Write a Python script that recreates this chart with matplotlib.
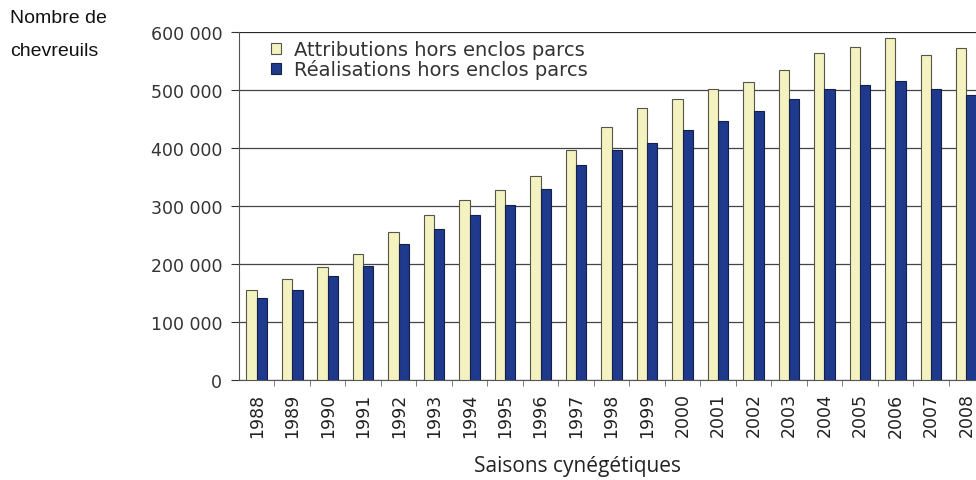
import matplotlib.pyplot as plt
from matplotlib.ticker import FuncFormatter, MultipleLocator
import numpy as np

years = [str(y) for y in range(1988, 2009)]
attributions = [155000, 174000, 194000, 217000, 255000, 285000, 311000, 328000, 352000, 396000,
                436000, 469000, 484000, 502000, 514000, 534000, 564000, 575000, 590000, 561000, 572000]
realisations = [141000, 155000, 180000, 197000, 235000, 261000, 285000, 302000, 329000, 370000,
                397000, 408000, 431000, 446000, 464000, 485000, 502000, 508000, 515000, 502000, 492000]

plt.rcParams['font.family'] = ['DejaVu Sans']

fig = plt.figure(figsize=(9.76, 4.81), dpi=100)
ax = fig.add_axes([239/976, 100/481, 1 - 239/976, 348/481])

x = np.arange(len(years))
w = 0.29
ax.bar(x - w/2, attributions, w, color='#f4f2c0', edgecolor='#555548', linewidth=0.8,
       label='Attributions hors enclos parcs', zorder=3)
ax.bar(x + w/2, realisations, w, color='#1f3a8c', edgecolor='#14204a', linewidth=0.8,
       label='Réalisations hors enclos parcs', zorder=3)

ax.set_xlim(-0.5, 20.27)
ax.set_ylim(0, 600000)
ax.yaxis.set_major_locator(MultipleLocator(100000))
ax.yaxis.set_major_formatter(FuncFormatter(lambda v, p: '0' if v == 0 else f'{int(v):,}'.replace(',', ' ')))
ax.grid(axis='y', color='#444444', linewidth=0.9, zorder=0)

ax.set_xticks(x)
ax.set_xticklabels(years, rotation=90, fontsize=12.5)
ax.set_xticks(x[:-1] + 0.5, minor=True)
ax.tick_params(axis='x', which='major', length=0, pad=9, colors='#222222')
ax.tick_params(axis='x', which='minor', length=4, color='#666666')
ax.tick_params(axis='y', length=6, labelsize=12.5, colors='#333333', pad=6)

for s in ['top', 'right']:
    ax.spines[s].set_visible(False)
ax.spines['left'].set_color('#555555')
ax.spines['bottom'].set_color('#555555')
ax.axhline(600000, color='#222222', linewidth=1.2, zorder=2)

fig.text(577/976, 1 - 467/481, 'Saisons cynégétiques', family='Open Sans', fontsize=15,
         color='#222222', ha='center', va='center')

leg = ax.legend(loc='upper left', bbox_to_anchor=(0.025, 1.015), frameon=False, fontsize=14,
                handlelength=0.5, handleheight=0.5, handletextpad=0.7, labelspacing=0.0,
                borderaxespad=0.3)
for t in leg.get_texts():
    t.set_color('#333333')

fig.text(10/976, 1 - 10/481, 'Nombre de\nchevreuils', family='Liberation Sans', fontsize=14,
         va='top', ha='left', linespacing=2.2, color='#111111')

fig.savefig('out.png', dpi=100)
